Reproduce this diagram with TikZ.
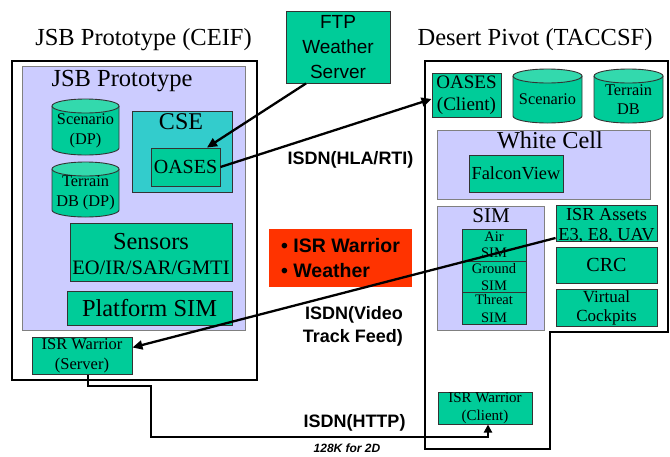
\documentclass[tikz,border=0pt]{standalone}
\usepackage{fontspec}
\setmainfont{Liberation Serif}
\setsansfont{Liberation Sans}
\usetikzlibrary{arrows.meta}
\definecolor{grn}{HTML}{00CC99}
\definecolor{grntop}{HTML}{33D9AD}
\definecolor{cse}{HTML}{33CCCC}
\definecolor{lav}{HTML}{CCCCFF}
\definecolor{redb}{HTML}{FF3300}
\newcommand{\fsz}[2]{\fontsize{#1}{#2}\selectfont}
\newcommand{\drawcyl}[4]{%
  \draw[draw=black!80,line width=0.9pt,fill=grn] (#1,{-#2-7}) -- (#1,{-#4+7})
    arc[start angle=180,end angle=360,x radius={(#3-#1)/2},y radius=7] -- (#3,{-#2-7});
  \draw[draw=black!80,line width=0.9pt,fill=grntop] ({(#1+#3)/2},{-#2-7}) ellipse[x radius={(#3-#1)/2},y radius=7];
}
\begin{document}
\begin{tikzpicture}[x=1pt,y=1pt,
  outer/.style={draw=black,line width=2.5pt,inner sep=0pt},
  gbox/.style={draw=black!80,line width=0.9pt,fill=grn,inner sep=0pt,align=center},
  lbox/.style={draw=black!50,line width=0.8pt,fill=lav,inner sep=0pt},
  tx/.style={inner sep=0pt,align=center},
  conn/.style={line width=2.3pt,-{Triangle[length=10pt,width=9pt]}},
  lab/.style={inner sep=0pt,font=\sffamily\bfseries\fsz{18}{23}}]
\useasboundingbox (0,0) rectangle (670,-456);
\fill[white] (0,0) rectangle (670,-456);

% titles
\node[tx,anchor=base,font=\fsz{24.5}{28}] (tL) at (143.5,-45) {JSB Prototype (CEIF)};
\node[tx,anchor=base,font=\fsz{24.5}{28}] (tR) at (535,-45) {Desert Pivot (TACCSF)};

% left side
\node[outer,minimum width=245,minimum height=319] (outL) at (134.5,-220.5) {};
\node[lbox,minimum width=223,minimum height=264] (jsb) at (133.5,-198) {};
\node[tx,anchor=base,font=\fsz{24.5}{28}] (jsbt) at (122,-86) {JSB Prototype};
\drawcyl{52}{99}{119}{155}
\node[tx,font=\fsz{16.3}{20.5}] (scnL) at (85.5,-131) {Scenario\\(DP)};
\drawcyl{52}{162}{119}{217}
\node[tx,font=\fsz{16.3}{19.5}] (terL) at (85.5,-193) {Terrain\\DB (DP)};
\node[draw=black!80,line width=0.9pt,fill=cse,inner sep=0pt,minimum width=100,minimum height=81] (cse) at (182,-151.5) {};
\node[tx,anchor=base,font=\fsz{24}{28}] (cset) at (181,-129) {CSE};
\node[gbox,minimum width=69,minimum height=38,font=\fsz{20}{24}] (oases) at (185.5,-167) {OASES};
\node[gbox,minimum width=162,minimum height=58] (sens) at (151,-252) {};
\node[tx,font=\fsz{24.4}{28}] (senst) at (151,-242) {Sensors};
\node[tx,font=\fsz{20.5}{24}] (senst2) at (151,-268) {EO/IR/SAR/GMTI};
\node[gbox,minimum width=165,minimum height=34,font=\fsz{24.4}{28}] (plat) at (149.5,-308) {Platform SIM};
\node[gbox,minimum width=100,minimum height=37,font=\fsz{16.5}{20}] (server) at (82,-356) {ISR Warrior\\(Server)};

% middle
\node[gbox,minimum width=104,minimum height=72,font=\sffamily\fsz{19}{25}] (ftp) at (338,-47) {FTP\\Weather\\Server};
\node[inner sep=0pt,fill=redb,minimum width=143,minimum height=58,align=left,font=\sffamily\bfseries\fsz{19.5}{25}] (red) at (340.5,-258) {• ISR Warrior\\• Weather};
\node[lab] (hla) at (350.5,-160) {ISDN(HLA/RTI)};
\node[lab,align=right,anchor=east] (video) at (403,-326) {ISDN(Video\\Track Feed)};
\node[lab] (http) at (354.5,-423) {ISDN(HTTP)};
\node[inner sep=0pt,font=\sffamily\bfseries\itshape\fsz{12}{14}] (k128) at (347,-448.5) {128K for 2D};

% right side
\draw[outer] (425,-61) -- (668,-61) -- (668,-332) -- (550,-332) -- (550,-449) -- (425,-449) -- cycle;
\node[gbox,minimum width=69,minimum height=44,font=\fsz{19}{22}] (oac) at (466.5,-95) {OASES\\(Client)};
\drawcyl{513}{69}{582}{123}
\node[tx,font=\fsz{16.3}{19}] (scnR) at (547.5,-99) {Scenario};
\drawcyl{594}{69}{663}{123}
\node[tx,font=\fsz{16.3}{19}] (terR) at (628.5,-99.5) {Terrain\\DB};
\node[lbox,minimum width=213,minimum height=69] (white) at (543.5,-164.5) {};
\node[tx,anchor=base,font=\fsz{24.3}{28}] (whitet) at (550,-148) {White Cell};
\node[gbox,minimum width=94,minimum height=37,font=\fsz{18.4}{22}] (falcon) at (516,-173.5) {FalconView};
\node[lbox,minimum width=107,minimum height=124] (sim) at (490.5,-268) {};
\node[tx,anchor=base,font=\fsz{21}{24}] (simt) at (491,-222) {SIM};
\node[gbox,minimum width=64,minimum height=32,font=\fsz{14.5}{16.5}] (air) at (494,-245) {Air\\SIM};
\node[gbox,minimum width=64,minimum height=31,font=\fsz{14.5}{17.5}] (ground) at (494,-277) {Ground\\SIM};
\node[gbox,minimum width=64,minimum height=32,font=\fsz{14.5}{18.5}] (threat) at (494,-308.5) {Threat\\SIM};
\node[gbox,minimum width=101,minimum height=36] (assets) at (606.5,-223) {};
\begin{scope}
  \clip (556,-205) rectangle (657,-241);
  \node[tx,font=\fsz{18.3}{20}] (assetst) at (606.5,-226) {ISR Assets\\E3, E8, UAV};
\end{scope}
\node[gbox,minimum width=101,minimum height=36,font=\fsz{20}{24}] (crc) at (606.5,-265) {CRC};
\node[gbox,minimum width=101,minimum height=37,font=\fsz{17}{19}] (virt) at (606.5,-307.5) {Virtual\\Cockpits};
\node[gbox,minimum width=94,minimum height=31,font=\fsz{15}{18}] (cli) at (485,-408.5) {ISR Warrior\\(Client)};

% connectors
\coordinate (c1) at (151,-386);
\coordinate (c2) at (151,-437);
\draw[conn] ([xshift=-32pt]ftp.south) -- ([xshift=21.5pt]oases.north);
\draw[conn] (oases.east) -- ([yshift=-4pt]oac.west);
\draw[conn] ([yshift=-15pt]assets.west) -- ([yshift=8.5pt]server.east);
\draw[line width=2.5pt,-{Triangle[length=8pt,width=8pt]}] ([xshift=6pt]server.south) |- (c1) -- (c2) -| ([xshift=3pt]cli.south);
\end{tikzpicture}
\end{document}
